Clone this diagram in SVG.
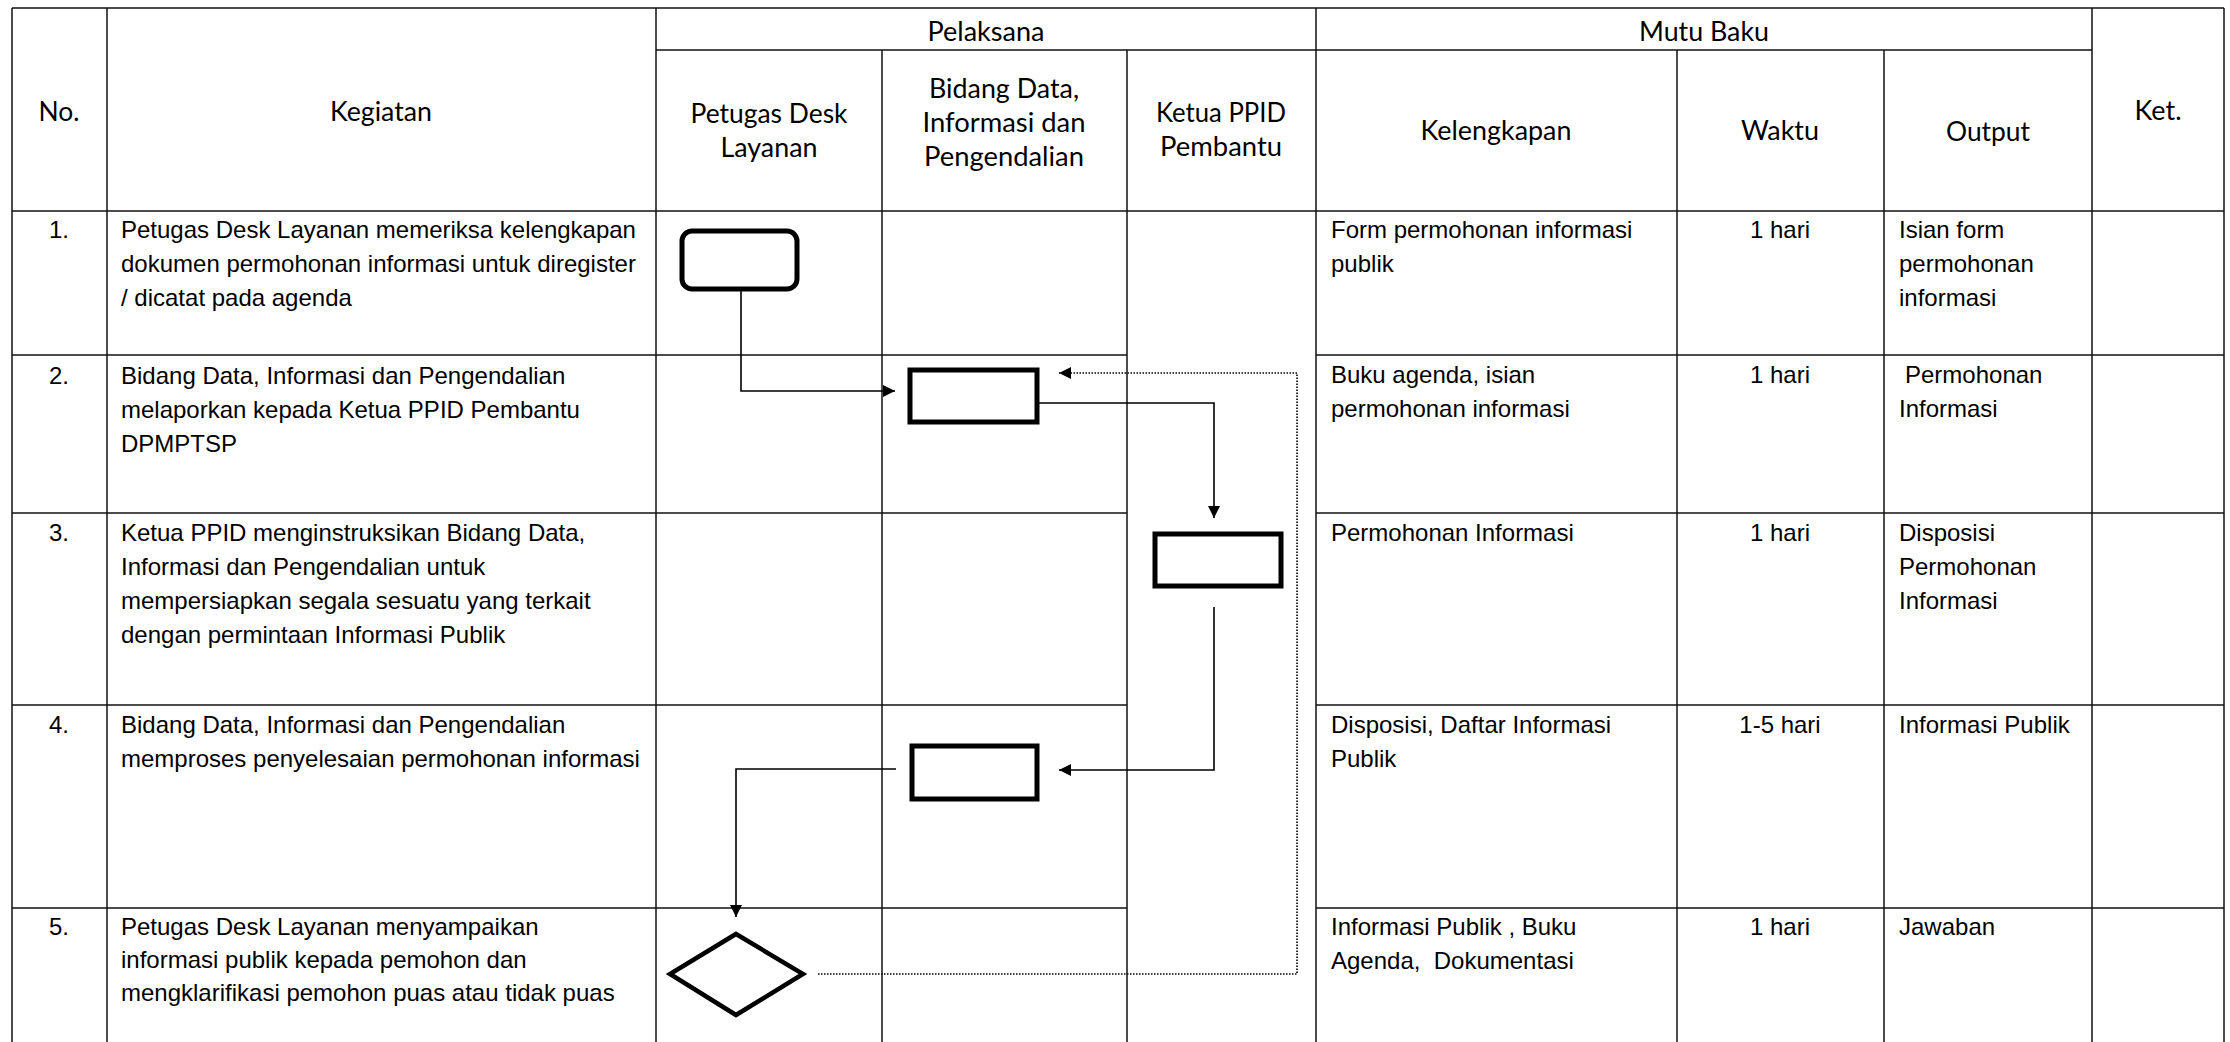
<svg xmlns="http://www.w3.org/2000/svg" width="2230" height="1042" viewBox="0 0 2230 1042">
<style>
.grid line{stroke:#111;stroke-width:1.5}
.hd{font-family:Lato,"Liberation Sans",sans-serif;font-size:27px;fill:#000;text-anchor:middle}
.tx{font-family:"Liberation Sans",Arial,sans-serif;font-size:24px;fill:#000}
.ct{text-anchor:middle}
.box{fill:#fff;stroke:#000;stroke-width:5}
.con{fill:none;stroke:#000;stroke-width:1.6}
.dot{fill:none;stroke:#000;stroke-width:1.6;stroke-dasharray:1.5 1.5}
</style>
<defs>
<marker id="ah" markerUnits="userSpaceOnUse" markerWidth="14" markerHeight="14" refX="12" refY="6" orient="auto">
<path d="M0,0 L12,6 L0,12 Z" fill="#000"/>
</marker>
</defs>
<rect x="0" y="0" width="2230" height="1042" fill="#fff"/>
<g id="table" class="grid">
<line x1="12" y1="8" x2="2224" y2="8"/>
<line x1="656" y1="50" x2="2092" y2="50"/>
<line x1="12" y1="211" x2="2224" y2="211"/>
<line x1="12" y1="355" x2="1127" y2="355"/><line x1="1316" y1="355" x2="2224" y2="355"/>
<line x1="12" y1="513" x2="1127" y2="513"/><line x1="1316" y1="513" x2="2224" y2="513"/>
<line x1="12" y1="705" x2="1127" y2="705"/><line x1="1316" y1="705" x2="2224" y2="705"/>
<line x1="12" y1="908" x2="1127" y2="908"/><line x1="1316" y1="908" x2="2224" y2="908"/>
<line x1="12" y1="8" x2="12" y2="1042"/>
<line x1="107" y1="8" x2="107" y2="1042"/>
<line x1="656" y1="8" x2="656" y2="1042"/>
<line x1="882" y1="50" x2="882" y2="1042"/>
<line x1="1127" y1="50" x2="1127" y2="1042"/>
<line x1="1316" y1="8" x2="1316" y2="1042"/>
<line x1="1677" y1="50" x2="1677" y2="1042"/>
<line x1="1884" y1="50" x2="1884" y2="1042"/>
<line x1="2092" y1="8" x2="2092" y2="1042"/>
<line x1="2224" y1="8" x2="2224" y2="1042"/>
</g>
<g id="header">
<text class="hd" x="59" y="121" textLength="41" lengthAdjust="spacingAndGlyphs">No.</text>
<text class="hd" x="381" y="121" textLength="102" lengthAdjust="spacingAndGlyphs">Kegiatan</text>
<text class="hd" x="986" y="41" textLength="117" lengthAdjust="spacingAndGlyphs">Pelaksana</text>
<text class="hd" x="769" y="123" textLength="157" lengthAdjust="spacingAndGlyphs">Petugas Desk</text>
<text class="hd" x="769" y="157" textLength="97" lengthAdjust="spacingAndGlyphs">Layanan</text>
<text class="hd" x="1004" y="98" textLength="150" lengthAdjust="spacingAndGlyphs">Bidang Data,</text>
<text class="hd" x="1004" y="132" textLength="163" lengthAdjust="spacingAndGlyphs">Informasi dan</text>
<text class="hd" x="1004" y="166" textLength="160" lengthAdjust="spacingAndGlyphs">Pengendalian</text>
<text class="hd" x="1221" y="122" textLength="130" lengthAdjust="spacingAndGlyphs">Ketua PPID</text>
<text class="hd" x="1221" y="156" textLength="122" lengthAdjust="spacingAndGlyphs">Pembantu</text>
<text class="hd" x="1704" y="41" textLength="130" lengthAdjust="spacingAndGlyphs">Mutu Baku</text>
<text class="hd" x="1496" y="140" textLength="151" lengthAdjust="spacingAndGlyphs">Kelengkapan</text>
<text class="hd" x="1780" y="140" textLength="78" lengthAdjust="spacingAndGlyphs">Waktu</text>
<text class="hd" x="1988" y="141" textLength="84" lengthAdjust="spacingAndGlyphs">Output</text>
<text class="hd" x="2158" y="120" textLength="47" lengthAdjust="spacingAndGlyphs">Ket.</text>
</g>
<g id="row1">
<text class="tx ct" x="59" y="238">1.</text>
<text class="tx" x="121" y="238">Petugas Desk Layanan memeriksa kelengkapan</text>
<text class="tx" x="121" y="272">dokumen permohonan informasi untuk diregister</text>
<text class="tx" x="121" y="306">/ dicatat pada agenda</text>
<text class="tx" x="1331" y="238">Form permohonan informasi</text>
<text class="tx" x="1331" y="272">publik</text>
<text class="tx ct" x="1780" y="238">1 hari</text>
<text class="tx" x="1899" y="238">Isian form</text>
<text class="tx" x="1899" y="272">permohonan</text>
<text class="tx" x="1899" y="306">informasi</text>
</g>
<g id="row2">
<text class="tx ct" x="59" y="384">2.</text>
<text class="tx" x="121" y="384">Bidang Data, Informasi dan Pengendalian</text>
<text class="tx" x="121" y="418">melaporkan kepada Ketua PPID Pembantu</text>
<text class="tx" x="121" y="452">DPMPTSP</text>
<text class="tx" x="1331" y="383">Buku agenda, isian</text>
<text class="tx" x="1331" y="417">permohonan informasi</text>
<text class="tx ct" x="1780" y="383">1 hari</text>
<text class="tx" x="1905" y="383">Permohonan</text>
<text class="tx" x="1899" y="417">Informasi</text>
</g>
<g id="row3">
<text class="tx ct" x="59" y="541">3.</text>
<text class="tx" x="121" y="541">Ketua PPID menginstruksikan Bidang Data,</text>
<text class="tx" x="121" y="575">Informasi dan Pengendalian untuk</text>
<text class="tx" x="121" y="609">mempersiapkan segala sesuatu yang terkait</text>
<text class="tx" x="121" y="643">dengan permintaan Informasi Publik</text>
<text class="tx" x="1331" y="541">Permohonan Informasi</text>
<text class="tx ct" x="1780" y="541">1 hari</text>
<text class="tx" x="1899" y="541">Disposisi</text>
<text class="tx" x="1899" y="575">Permohonan</text>
<text class="tx" x="1899" y="609">Informasi</text>
</g>
<g id="row4">
<text class="tx ct" x="59" y="733">4.</text>
<text class="tx" x="121" y="733">Bidang Data, Informasi dan Pengendalian</text>
<text class="tx" x="121" y="767">memproses penyelesaian permohonan informasi</text>
<text class="tx" x="1331" y="733">Disposisi, Daftar Informasi</text>
<text class="tx" x="1331" y="767">Publik</text>
<text class="tx ct" x="1780" y="733">1-5 hari</text>
<text class="tx" x="1899" y="733">Informasi Publik</text>
</g>
<g id="row5">
<text class="tx ct" x="59" y="935">5.</text>
<text class="tx" x="121" y="935">Petugas Desk Layanan menyampaikan</text>
<text class="tx" x="121" y="968">informasi publik kepada pemohon dan</text>
<text class="tx" x="121" y="1001">mengklarifikasi pemohon puas atau tidak puas</text>
<text class="tx" x="1331" y="935">Informasi Publik , Buku</text>
<text class="tx" x="1331" y="969">Agenda,&#160; Dokumentasi</text>
<text class="tx ct" x="1780" y="935">1 hari</text>
<text class="tx" x="1899" y="935">Jawaban</text>
</g>
<g id="node-start"><rect class="box" x="682" y="231" width="115" height="58" rx="10" ry="10" stroke-width="4.5"/></g>
<g id="node-lapor"><rect class="box" x="910" y="370" width="127" height="52"/></g>
<g id="node-instruksi"><rect class="box" x="1155" y="534" width="126" height="52"/></g>
<g id="node-proses"><rect class="box" x="912" y="746" width="125" height="53"/></g>
<g id="node-klarifikasi"><polygon points="736,934 803,974 736,1015 670,974" fill="#fff" stroke="#000" stroke-width="4.5"/></g>
<g id="connectors">
<path class="con" d="M741,289 V391 H895" marker-end="url(#ah)"/>
<path class="con" d="M1037,403 H1214 V518" marker-end="url(#ah)"/>
<path class="con" d="M1214,607 V770 H1059" marker-end="url(#ah)"/>
<path class="con" d="M896,769 H736 V917" marker-end="url(#ah)"/>
<path class="dot" d="M818,974 H1297 V373 H1059" marker-end="url(#ah)"/>
</g>
</svg>
